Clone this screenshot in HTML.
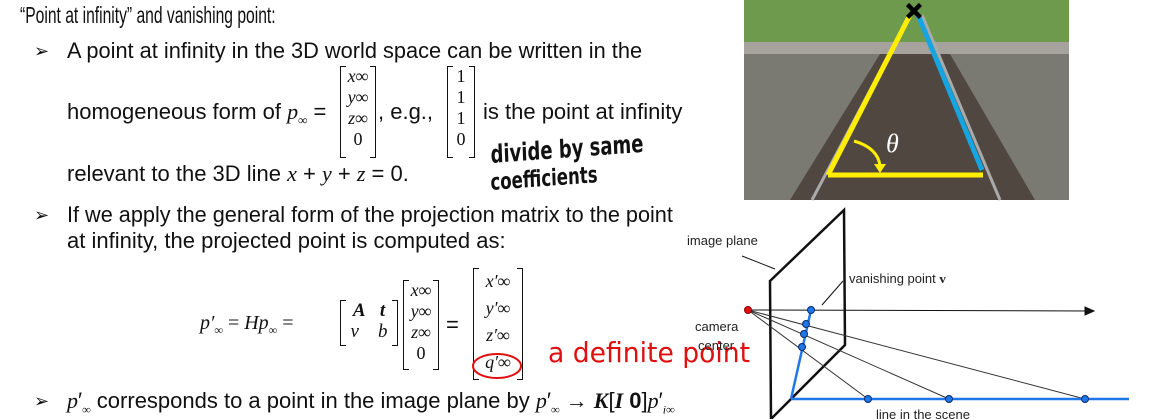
<!DOCTYPE html>
<html><head><meta charset="utf-8"><style>
body{margin:0;width:1149px;height:419px;background:#fff;position:relative;overflow:hidden;font-family:"Liberation Sans",sans-serif;color:#111}
.t{position:absolute;font-size:22px;white-space:nowrap;transform-origin:left top}
.m{font-family:"Liberation Serif",serif;font-style:italic}
.b{position:absolute;font-size:18px}
.mat{position:absolute;border-left:1.5px solid #111;border-right:1.5px solid #111;font-family:"Liberation Serif",serif;font-style:italic;font-size:18px;text-align:center;line-height:21px}
.mat:before,.mat:after{content:"";position:absolute;top:0;bottom:0;width:5px;border-top:1.5px solid #111;border-bottom:1.5px solid #111}
.mat:before{left:0}.mat:after{right:0}
.hw{position:absolute;font-family:"DejaVu Sans",sans-serif;white-space:nowrap;transform-origin:left top}
</style></head><body>
<div class="t" style="left:20px;top:2px;font-size:23px;transform:scaleX(0.68)">“Point at infinity” and vanishing point:</div>
<div class="b" style="left:34px;top:41px">➢</div>
<div class="t" style="left:67px;top:38px;transform:scaleX(0.99)">A point at infinity in the 3D world space can be written in the</div>
<div class="t" style="left:67px;top:99px">homogeneous form of <span class="m">p</span><sub class="m" style="font-size:13px">∞</sub> =</div>
<div class="mat" style="left:340px;top:66px;width:34px;height:92px">x∞<br>y∞<br>z∞<br><span style="font-style:normal">0</span></div>
<div class="t" style="left:378px;top:99px">, e.g.,</div>
<div class="mat" style="left:447px;top:66px;width:26px;height:92px;font-style:normal">1<br>1<br>1<br>0</div>
<div class="t" style="left:483px;top:99px">is the point at infinity</div>
<div class="t" style="left:67px;top:161px">relevant to the 3D line <span class="m">x</span> + <span class="m">y</span> + <span class="m">z</span> = 0.</div>
<div class="hw" style="left:490px;top:140px;font-size:25px;font-weight:bold;transform:scaleX(0.72) rotate(-3deg)">divide by same</div>
<div class="hw" style="left:490px;top:170px;font-size:23px;font-weight:bold;transform:scaleX(0.72) rotate(-3deg)">coefficients</div>
<div class="b" style="left:34px;top:205px">➢</div>
<div class="t" style="left:67px;top:202px;transform:scaleX(0.985)">If we apply the general form of the projection matrix to the point</div>
<div class="t" style="left:67px;top:228px">at infinity, the projected point is computed as:</div>
<div class="t m" style="left:200px;top:312px;font-size:20px">p′<sub style="font-size:12px">∞</sub> <span style="font-style:normal">=</span> Hp<sub style="font-size:12px">∞</sub> <span style="font-style:normal">=</span></div>
<div class="mat" style="left:340px;top:300px;width:56px;height:46px;font-size:19px"><b>A</b>&nbsp;&nbsp;&nbsp;<b>t</b><br>v&nbsp;&nbsp;&nbsp;&nbsp;b</div>
<div class="mat" style="left:403px;top:280px;width:34px;height:90px">x∞<br>y∞<br>z∞<br><span style="font-style:normal">0</span></div>
<div class="t" style="left:446px;top:312px">=</div>
<div class="mat" style="left:473px;top:268px;width:48px;height:112px;line-height:27px">x′∞<br>y′∞<br>z′∞<br>q′∞</div>
<svg style="position:absolute;left:470px;top:346px" width="60" height="36"><ellipse cx="27" cy="20" rx="24" ry="12" fill="none" stroke="#e01010" stroke-width="2"/></svg>
<div class="hw" style="left:548px;top:336px;font-size:28px;color:#e01010;transform:scaleX(0.95)">a definite point</div>
<div class="b" style="left:34px;top:391px">➢</div>
<div class="t" style="left:67px;top:388px"><span class="m">p</span>′<sub class="m" style="font-size:12px">∞</sub> corresponds to a point in the image plane by <span class="m">p</span>′<sub class="m" style="font-size:12px">∞</sub> → <b class="m">K</b>[<b class="m">I</b> <b>0</b>]<span class="m">p</span>′<sub class="m" style="font-size:12px">i∞</sub></div>

<svg style="position:absolute;left:0;top:0" width="1149" height="419">
<g>
<rect x="744" y="0" width="325" height="200" fill="#7a7a72"/>
<rect x="744" y="0" width="325" height="42" fill="#6e9a4e"/>
<rect x="744" y="42" width="325" height="12" fill="#a5a39c"/>
<polygon points="880,54 950,54 1035,200 790,200" fill="#504840"/>
<line x1="812" y1="200" x2="910" y2="15" stroke="#aaa" stroke-width="3"/>
<line x1="1000" y1="200" x2="922" y2="15" stroke="#aaa" stroke-width="3"/>
<line x1="828" y1="175" x2="910" y2="15" stroke="#ffee00" stroke-width="5"/>
<line x1="918" y1="15" x2="982" y2="170" stroke="#16a5e0" stroke-width="5"/>
<line x1="828" y1="175" x2="983" y2="175" stroke="#ffee00" stroke-width="5"/>
<path d="M854,141 Q878,148 880,166" fill="none" stroke="#ffee00" stroke-width="3"/>
<polygon points="874,164 886,164 880,173" fill="#ffee00"/>
<text x="886" y="152" font-family="Liberation Serif" font-style="italic" font-size="26" fill="#fff">θ</text>
<text x="914" y="19" font-family="Liberation Sans" font-weight="bold" font-size="22" fill="#fff" stroke="#000" stroke-width="1.5" text-anchor="middle">✕</text>
</g>
<g stroke="#111" fill="none">
<polygon points="770,281 844,210 845,345 771,419" stroke-width="2.5"/>
<line x1="748" y1="310" x2="1092" y2="311" stroke-width="1"/>
<polygon points="1094,311 1085,307 1085,315" fill="#111"/>
<line x1="748" y1="310" x2="868" y2="399" stroke="#333"/>
<line x1="748" y1="310" x2="949" y2="399" stroke="#333"/>
<line x1="748" y1="310" x2="1085" y2="399" stroke="#333"/>
<line x1="791" y1="399" x2="1129" y2="399" stroke="#1e78e8" stroke-width="2.5"/>
<line x1="791" y1="399" x2="811" y2="310" stroke="#1e78e8" stroke-width="2.5"/>
<line x1="742" y1="256" x2="775" y2="269" stroke="#111"/>
<line x1="843" y1="281" x2="822" y2="305" stroke="#111"/>
<g fill="#1e78e8" stroke="#0a2a6a" stroke-width="1">
<circle cx="811" cy="310" r="3.5"/><circle cx="806" cy="324" r="3.5"/><circle cx="804" cy="334" r="3.5"/><circle cx="802" cy="347" r="3.5"/>
<circle cx="868" cy="399" r="3.5"/><circle cx="949" cy="399" r="3.5"/><circle cx="1085" cy="399" r="3.5"/>
</g>
<circle cx="748" cy="310" r="3.5" fill="#e01010" stroke="#800"/>
</g>
<g font-family="Liberation Sans" font-size="13" fill="#222">
<text x="687" y="245">image plane</text>
<text x="849" y="283">vanishing point <tspan font-family="Liberation Serif" font-weight="bold">v</tspan></text>
<text x="695" y="331">camera</text>
<text x="698" y="350">center</text>
<text x="876" y="419">line in the scene</text>
</g>
</svg>
</body></html>
